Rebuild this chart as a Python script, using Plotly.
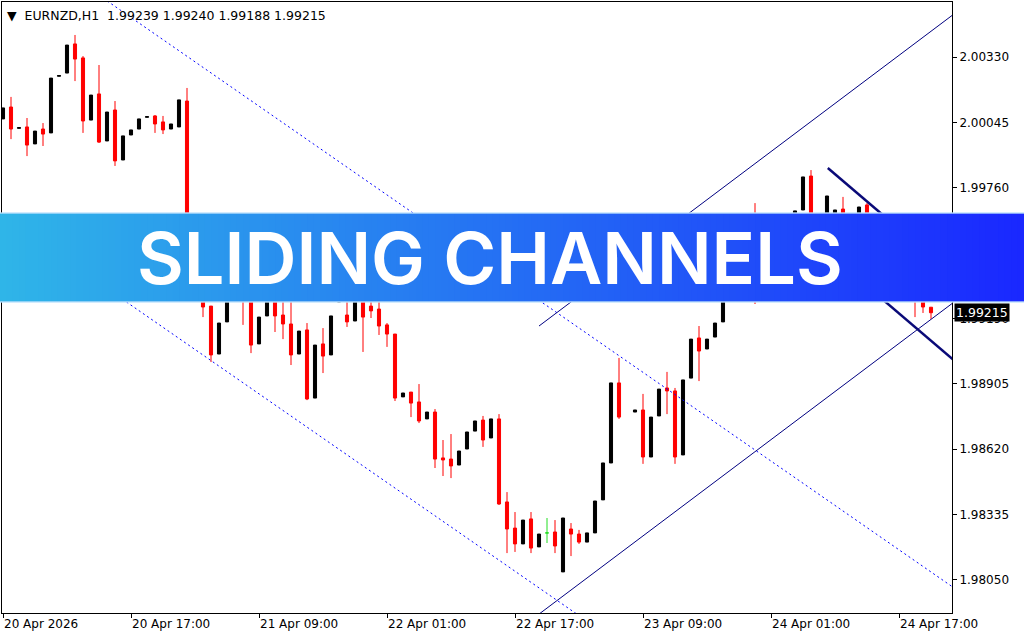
import plotly.graph_objects as go

# ---------------- data (EURNZD H1) ----------------
bar_index = list(range(117))
opens = [2.00060, 2.00112, 2.00019, 2.00025, 1.99951, 2.00016, 1.99999, 2.00246, 2.00260, 2.00387,
         2.00326, 2.00055, 2.00169, 1.99964, 2.00099, 1.99881, 1.99990, 2.00016, 2.00067, 2.00073,
         2.00047, 2.00016, 2.00025, 2.00138, 1.99349, 1.99393, 1.99244, 1.99035, 1.99175, 1.99314,
         1.99323, 1.99305, 1.99079, 1.99201, 1.99297, 1.99205, 1.99166, 1.99035, 1.99140, 1.98843,
         1.99079, 1.99031, 1.99262, 1.99205, 1.99179, 1.99297, 1.99244, 1.99231, 1.99162, 1.99122,
         1.98848, 1.98869, 1.98826, 1.98752, 1.98782, 1.98582, 1.98577, 1.98551, 1.98621, 1.98699,
         1.98747, 1.98669, 1.98752, 1.98390, 1.98276, 1.98207, 1.98316, 1.98194, None, 1.98259,
         1.98085, 1.98272, 1.98250, 1.98215, 1.98255, 1.98399, 1.98560, 1.98909, None, 1.98782,
         1.98791, 1.98586, 1.98765, 1.98887, 1.98874, 1.98595, 1.98930, 1.99105, 1.99057, 1.99109,
         1.99175, 1.99314, 1.99420, 1.99380, 1.99560, 1.99400, 1.99480, 1.99560, 1.99500, 1.99580,
         1.99663, 1.99811, 1.99560, 1.99580, 1.99600, 1.99667, 1.99600, 1.99560, 1.99685, 1.99560,
         1.99480, 1.99420, 1.99460, 1.99360, 1.99300, 1.99268, 1.99239]
highs = [2.00108, 2.00156, 2.00022, 2.00064, 2.00007, 2.00042, 2.00238, 2.00249, 2.00382, 2.00426,
         2.00334, 2.00164, 2.00295, 2.00090, 2.00138, 1.99986, 2.00012, 2.00060, 2.00070, 2.00077,
         2.00073, 2.00038, 2.00143, 2.00195, 1.99410, 1.99410, 1.99244, 1.99170, 1.99314, 1.99336,
         1.99349, 1.99332, 1.99196, 1.99297, 1.99314, 1.99271, 1.99271, 1.99135, 1.99170, 1.99074,
         1.99148, 1.99201, 1.99300, 1.99288, 1.99288, 1.99314, 1.99279, 1.99279, 1.99170, 1.99122,
         1.98865, 1.98869, 1.98904, 1.98782, 1.98795, 1.98660, 1.98686, 1.98612, 1.98695, 1.98743,
         1.98765, 1.98752, 1.98773, 1.98433, 1.98346, 1.98311, 1.98346, 1.98250, None, 1.98311,
         1.98320, 1.98298, 1.98268, 1.98255, 1.98394, 1.98560, 1.98909, 1.99018, None, 1.98791,
         1.98861, 1.98760, 1.98882, 1.98957, 1.98887, 1.98922, 1.99100, 1.99157, 1.99100, 1.99170,
         1.99314, 1.99420, 1.99450, 1.99540, 1.99693, 1.99480, 1.99560, 1.99590, 1.99600, 1.99659,
         1.99807, 1.99837, 1.99620, 1.99724, 1.99663, 1.99720, 1.99620, 1.99676, 1.99693, 1.99580,
         1.99500, 1.99460, 1.99480, 1.99380, 1.99320, 1.99290, 1.99240]
lows = [2.00060, 1.99972, 2.00019, 1.99898, 1.99951, 1.99942, 1.99999, 2.00246, 2.00260, 2.00225,
        1.99999, 2.00055, 1.99955, 1.99964, 1.99855, 1.99881, 1.99990, 2.00016, 2.00067, 1.99999,
        1.99994, 2.00016, 2.00025, 1.99336, 1.99349, 1.99196, 1.99000, 1.99035, 1.99175, 1.99271,
        1.99162, 1.99039, 1.99079, 1.99201, 1.99131, 1.99100, 1.98987, 1.99035, 1.98834, 1.98843,
        1.98952, 1.99031, 1.99262, 1.99153, 1.99179, 1.99044, 1.99192, 1.99118, 1.99066, 1.98830,
        1.98848, 1.98760, 1.98734, 1.98752, 1.98538, 1.98503, 1.98494, 1.98551, 1.98621, 1.98699,
        1.98630, 1.98669, 1.98377, 1.98167, 1.98172, 1.98207, 1.98167, 1.98194, None, 1.98167,
        1.98085, 1.98154, 1.98207, 1.98215, 1.98255, 1.98399, 1.98560, 1.98752, None, 1.98782,
        1.98556, 1.98586, 1.98765, 1.98773, 1.98556, 1.98595, 1.98930, 1.98917, 1.99057, 1.99109,
        1.99175, 1.99314, 1.99360, 1.99370, 1.99253, 1.99400, 1.99480, 1.99470, 1.99500, 1.99580,
        1.99663, 1.99530, 1.99560, 1.99580, 1.99600, 1.99580, 1.99540, 1.99560, 1.99540, 1.99460,
        1.99400, 1.99420, 1.99340, 1.99280, 1.99196, 1.99214, 1.99188]
closes = [2.00108, 2.00016, 2.00022, 1.99946, 2.00007, 1.99994, 2.00238, 2.00249, 2.00382, 2.00321,
          2.00051, 2.00164, 1.99959, 2.00090, 1.99877, 1.99986, 2.00012, 2.00060, 2.00070, 2.00038,
          2.00012, 2.00038, 2.00143, 1.99358, 1.99410, 1.99240, 1.99031, 1.99170, 1.99314, 1.99288,
          1.99279, 1.99074, 1.99196, 1.99297, 1.99201, 1.99166, 1.99031, 1.99135, 1.98839, 1.99074,
          1.99026, 1.99201, 1.99300, 1.99175, 1.99288, 1.99196, 1.99223, 1.99157, 1.99122, 1.98843,
          1.98865, 1.98821, 1.98743, 1.98782, 1.98577, 1.98573, 1.98547, 1.98612, 1.98695, 1.98743,
          1.98660, 1.98752, 1.98381, 1.98272, 1.98207, 1.98311, 1.98189, 1.98250, None, 1.98198,
          1.98320, 1.98250, 1.98215, 1.98255, 1.98394, 1.98560, 1.98909, 1.98760, None, 1.98791,
          1.98586, 1.98760, 1.98882, 1.98874, 1.98586, 1.98922, 1.99100, 1.99048, 1.99100, 1.99170,
          1.99314, 1.99420, 1.99380, 1.99520, 1.99400, 1.99480, 1.99560, 1.99500, 1.99600, 1.99659,
          1.99807, 1.99560, 1.99620, 1.99724, 1.99663, 1.99600, 1.99560, 1.99676, 1.99560, 1.99480,
          1.99420, 1.99460, 1.99360, 1.99300, 1.99270, 1.99240, 1.99215]

# doji bar drawn in green
doji_index = [68]
doji_open = [1.98255]
doji_high = [1.98320]
doji_low = [1.98211]
doji_close = [1.98255]

time_ticks = [0, 16, 32, 48, 64, 80, 96, 112]
time_labels = ["20 Apr 2026", "20 Apr 17:00", "21 Apr 09:00", "22 Apr 01:00",
               "22 Apr 17:00", "23 Apr 09:00", "24 Apr 01:00", "24 Apr 17:00"]
price_ticks = [1.98050, 1.98335, 1.98620, 1.98905, 1.99190, 1.99475, 1.99760, 2.00045, 2.00330]

# channel anchor points (bar index, price)
down_upper_t = [12, 120]
down_upper_p = [2.00599, 1.97988]
down_lower_t = [-1, 75]
down_lower_p = [1.99659, 1.97822]
up_upper_t = [67, 120]
up_upper_p = [1.99157, 2.00547]
up_lower_t = [67, 120]
up_lower_p = [1.97901, 1.99291]
thick_upper_t = [103.1, 120]
thick_upper_p = [1.99846, 1.99343]
thick_lower_t = [103.1, 120]
thick_lower_p = [1.99477, 1.98974]

symbol_header = "EURNZD,H1"
last_ohlc = ["1.99239", "1.99240", "1.99188", "1.99215"]
last_price = 1.99215
title_text = "SLIDING CHANNELS"

# ---------------- figure ----------------
FONT = "DejaVu Sans"
fig = go.Figure()

fig.add_trace(go.Candlestick(
    x=bar_index, open=opens, high=highs, low=lows, close=closes,
    increasing=dict(line=dict(color="#000000", width=1), fillcolor="#000000"),
    decreasing=dict(line=dict(color="#ff0000", width=1), fillcolor="#ff0000"),
    whiskerwidth=0, hoverinfo="skip", showlegend=False))

fig.add_trace(go.Candlestick(
    x=doji_index, open=doji_open, high=doji_high, low=doji_low, close=doji_close,
    increasing=dict(line=dict(color="#22dd22", width=1), fillcolor="#22dd22"),
    decreasing=dict(line=dict(color="#22dd22", width=1), fillcolor="#22dd22"),
    whiskerwidth=0, hoverinfo="skip", showlegend=False))

for t, p in [(down_upper_t, down_upper_p), (down_lower_t, down_lower_p)]:
    fig.add_trace(go.Scatter(x=t, y=p, mode="lines", hoverinfo="skip", showlegend=False,
                             line=dict(color="#0000ff", width=1, dash="2px,3px")))
for t, p in [(up_upper_t, up_upper_p), (up_lower_t, up_lower_p)]:
    fig.add_trace(go.Scatter(x=t, y=p, mode="lines", hoverinfo="skip", showlegend=False,
                             line=dict(color="#000080", width=1)))
for t, p in [(thick_upper_t, thick_upper_p), (thick_lower_t, thick_lower_p)]:
    fig.add_trace(go.Scatter(x=t, y=p, mode="lines", hoverinfo="skip", showlegend=False,
                             line=dict(color="#0a0a78", width=2.5)))

W, H = 1024, 640
ML, MR, MT, MB = 2, 72, 2, 27
pw, ph = W - ML - MR, H - MT - MB

def px_x(x):
    return (x - ML) / pw

def px_y(y):
    return (H - MB - y) / ph

# gradient banner made of thin strips
shapes = []
N = 160
c0 = (47, 181, 232)
c1 = (26, 40, 255)
b_top, b_bot = 213, 302
for k in range(N):
    f = k / (N - 1)
    col = "rgb(%d,%d,%d)" % tuple(round(c0[j] + (c1[j] - c0[j]) * f) for j in range(3))
    xa = W * k / N
    xb = W * (k + 1) / N + 0.8
    shapes.append(dict(type="rect", xref="paper", yref="paper", layer="above",
                       x0=px_x(xa), x1=px_x(xb), y0=px_y(b_bot), y1=px_y(b_top),
                       fillcolor=col, line=dict(width=0)))
for yy in (b_top, b_bot):
    shapes.append(dict(type="line", xref="paper", yref="paper", layer="above",
                       x0=px_x(0), x1=px_x(W), y0=px_y(yy), y1=px_y(yy),
                       line=dict(color="rgba(190,225,252,0.9)", width=1.5)))

annotations = [
    dict(text="\u25BC\u00a0\u00a0" + symbol_header + "\u00a0\u00a0" + " ".join(last_ohlc),
         xref="paper", yref="paper", x=0, y=1, xanchor="left", yanchor="top",
         xshift=3, yshift=-4, showarrow=False, font=dict(family=FONT, size=12.5, color="#000000")),
    dict(text="%.5f" % last_price, xref="paper", yref="y", x=1, y=last_price,
         xanchor="left", yanchor="middle", xshift=2, showarrow=False,
         bgcolor="#000000", borderpad=1, font=dict(family=FONT, size=12.5, color="#ffffff")),
    dict(text=title_text, xref="paper", yref="paper", x=px_x(490), y=px_y(257),
         xanchor="center", yanchor="middle", showarrow=False,
         font=dict(family="Inter", size=72, color="#ffffff", weight=600)),
]

fig.update_layout(
    width=W, height=H, margin=dict(l=ML, r=MR, t=MT, b=MB),
    paper_bgcolor="#ffffff", plot_bgcolor="#ffffff", showlegend=False,
    boxgap=0.45,
    shapes=shapes, annotations=annotations,
    xaxis=dict(range=[-0.125, 118.625], tickvals=time_ticks, ticktext=time_labels,
               ticks="outside", ticklen=4, tickcolor="#000000",
               showline=True, linecolor="#000000", linewidth=1, mirror=True,
               showgrid=False, zeroline=False, rangeslider=dict(visible=False),
               ticklabelposition="outside right",
               tickfont=dict(family=FONT, size=12, color="#000000")),
    yaxis=dict(range=[1.979058, 2.005698], side="right", tickvals=price_ticks, tickformat=".5f",
               ticks="outside", ticklen=4, tickcolor="#000000",
               showline=True, linecolor="#000000", linewidth=1, mirror=True,
               showgrid=False, zeroline=False,
               tickfont=dict(family=FONT, size=12, color="#000000")),
)

fig.write_html("out.html", config={"displayModeBar": False},
               post_script="document.body.style.margin='0';document.body.style.overflow='hidden';")
